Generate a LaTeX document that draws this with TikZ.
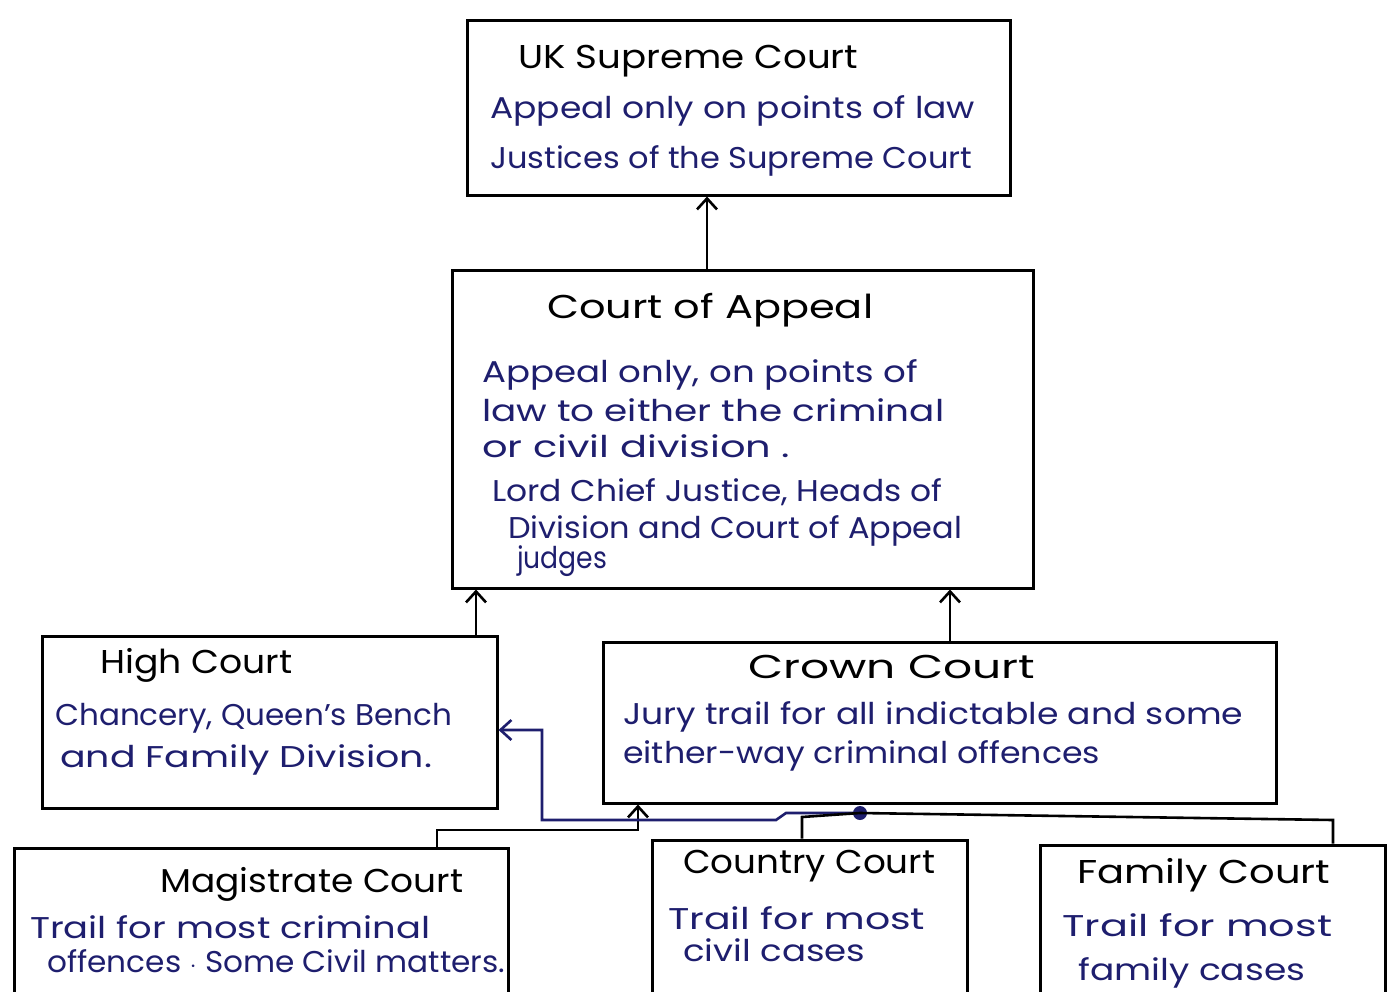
\documentclass[tikz,border=0pt]{standalone}
\usepackage{fontspec}
\setmainfont{Poppins}
\usetikzlibrary{arrows.meta}
\definecolor{ink}{HTML}{1E1E6E}
\newcommand\fw[2]{\resizebox{#1pt}{\height}{#2}}
\begin{document}
\begin{tikzpicture}[x=1pt,y=-1pt,
  box/.style={draw=black, line width=3pt, inner sep=0pt},
  ttl/.style={anchor=base west, inner sep=0pt, text=black, font=\fontsize{33}{38}\selectfont},
  bdy/.style={anchor=base west, inner sep=0pt, text=ink, font=\fontsize{30}{35}\selectfont},
  arr/.style={draw=black, line width=2.6pt, -{Straight Barb[length=11pt,width=20pt,line width=2.6pt]}},
  wire/.style={draw=black, line width=2.6pt},
  jdot/.style={circle, fill=ink, inner sep=0pt, minimum size=14pt}]
\useasboundingbox (0,0) rectangle (1397,991);
\clip (0,0) rectangle (1397,991);
\fill[white] (0,0) rectangle (1397,991);

% boxes
\node[box, minimum width=543pt, minimum height=175pt] (sup) at (738.5,107.5) {};
\node[box, minimum width=581pt, minimum height=318pt] (coa) at (742.5,429) {};
\node[box, minimum width=455pt, minimum height=172pt] (high) at (269.5,722) {};
\node[box, minimum width=673pt, minimum height=161pt] (crown) at (939.5,722.5) {};
\node[box, minimum width=494pt, minimum height=180pt] (mag) at (261,938) {};
\node[box, minimum width=315pt, minimum height=190pt] (country) at (809.5,935) {};
\node[box, minimum width=345pt, minimum height=180pt] (family) at (1212.5,935) {};

% UK Supreme Court
\node[ttl] (supT) at (518,68) {\fw{340}{UK Supreme Court}};
\node[bdy] (sup1) at (490,118) {\fw{485}{Appeal only on points of law}};
\node[bdy] (sup2) at (490,168) {\fw{482}{Justices of the Supreme Court}};

% Court of Appeal
\node[ttl] (coaT) at (547,318) {\fw{326}{Court of Appeal}};
\node[bdy] (coa1) at (482,382) {\fw{436}{Appeal only, on points of}};
\node[bdy] (coa2) at (482,421) {\fw{462}{law to either the criminal}};
\node[bdy] (coa3) at (482,457) {\fw{308}{or civil division .}};
\node[bdy] (coa4) at (492,501) {\fw{450}{Lord Chief Justice, Heads of}};
\node[bdy] (coa5) at (508,538) {\fw{454}{Division and Court of Appeal}};
\node[bdy] (coa6) at (517,568) {\fw{90}{judges}};

% High Court
\node[ttl] (highT) at (100,673) {\fw{192}{High Court}};
\node[bdy] (high1) at (55,725) {\fw{397}{Chancery, Queen's Bench}};
\node[bdy] (high2) at (60,767) {\fw{372}{and Family Division.}};

% Crown Court
\node[ttl] (crownT) at (748,678) {\fw{287}{Crown Court}};
\node[bdy] (crown1) at (623,724) {\fw{620}{Jury trail for all indictable and some}};
\node[bdy] (crown2) at (623,763) {\fw{477}{either-way criminal offences}};

% Magistrate Court
\node[ttl] (magT) at (160,892) {\fw{303}{Magistrate Court}};
\node[bdy] (mag1) at (30,938) {\fw{400}{Trail for most criminal}};
\node[bdy] (mag2) at (47,972) {\fw{458}{offences $\cdot$ Some Civil matters.}};

% Country Court
\node[ttl] (countryT) at (683,873) {\fw{252}{Country Court}};
\node[bdy] (country1) at (668,929) {\fw{257}{Trail for most}};
\node[bdy] (country2) at (683,961) {\fw{182}{civil cases}};

% Family Court
\node[ttl] (familyT) at (1077,883) {\fw{253}{Family Court}};
\node[bdy] (family1) at (1062,936) {\fw{270}{Trail for most}};
\node[bdy] (family2) at (1078,980) {\fw{227}{family cases}};

% junction
\node[jdot] (j) at (860,813) {};

% connectors
\draw[arr] (coa.north -| 707,0) -- (sup.south -| 707,0);
\draw[arr] (high.north -| 476,0) -- (coa.south -| 476,0);
\draw[arr] (crown.north -| 950,0) -- (coa.south -| 950,0);
\draw[arr] (mag.north -| 437,0) -- (437,830) -- (638,830) -- (crown.south -| 638,0);
\draw[arr, draw=ink] (j.center) -- (786,813) -- (776,820) -- (542,820) -- (542,730) -- (high.east |- 0,730);
\draw[wire] (country.north -| 802,0) -- (802,817) -- (j.center);
\draw[wire] (family.north -| 1333,0) -- (1333,820) -- (j.center);
\end{tikzpicture}
\end{document}
